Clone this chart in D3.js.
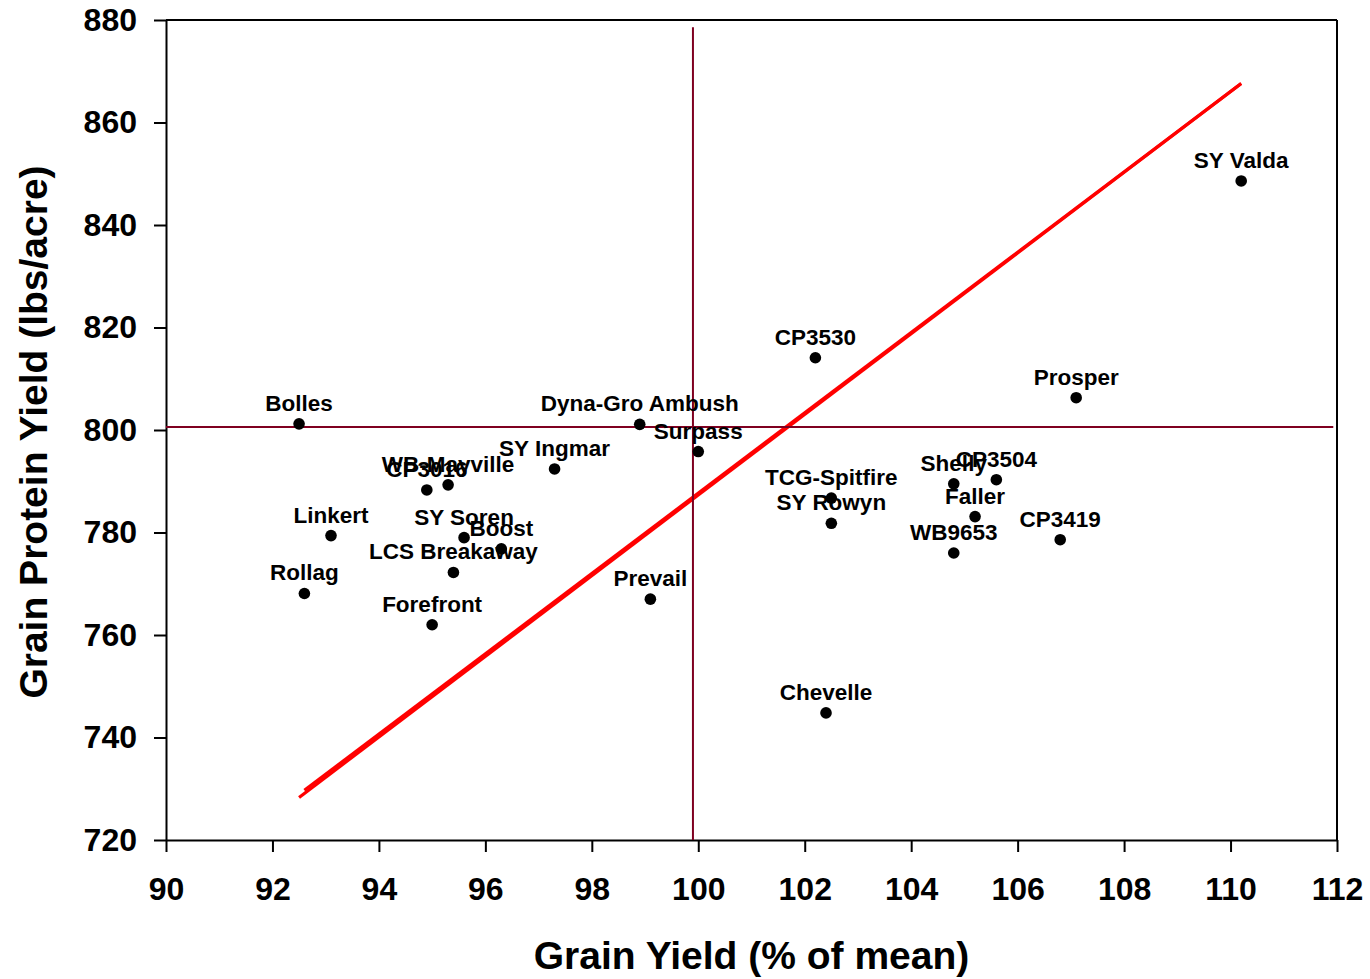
<!DOCTYPE html>
<html>
<head>
<meta charset="utf-8">
<script src="https://cdn.jsdelivr.net/npm/d3@7"></script>
<style>
  body { margin: 0; background: #fff; }
  text { font-family: "Liberation Sans", Arial, sans-serif; font-weight: bold; }
</style>
</head>
<body>
<svg id="chart"></svg>
<script>
// Data ========================================================================

const varieties = [
  "SY Valda", "CP3530", "Prosper", "Bolles", "Dyna-Gro Ambush", "Surpass",
  "SY Ingmar", "WB-Mayville", "CP3016", "Linkert", "SY Soren", "Boost",
  "LCS Breakaway", "Rollag", "Forefront", "Prevail", "Chevelle",
  "TCG-Spitfire", "SY Rowyn", "Shelly", "CP3504", "Faller", "WB9653", "CP3419"
];
const grainYield = [
  110.2, 102.2, 107.1, 92.5, 98.9, 100.0,
  97.3, 95.3, 94.9, 93.1, 95.6, 96.3,
  95.4, 92.6, 95.0, 99.1, 102.4,
  102.5, 102.5, 104.8, 105.6, 105.2, 104.8, 106.8
];
const proteinYield = [
  848.6, 814.1, 806.3, 801.2, 801.1, 795.8,
  792.4, 789.3, 788.3, 779.4, 779.0, 776.8,
  772.2, 768.1, 762.0, 767.0, 744.8,
  786.7, 781.8, 789.5, 790.3, 783.1, 776.0, 778.6
];

const xTicks = [90, 92, 94, 96, 98, 100, 102, 104, 106, 108, 110, 112];
const yTicks = [720, 740, 760, 780, 800, 820, 840, 860, 880];

// mean reference lines
const meanYield = 99.9;
const meanProtein = 800.6;

// regression line (drawn twice, as in the original)
const trendX = [92.5, 110.2];
const trendY = [728.3, 867.6];
const trendX2 = [92.6, 110.2];
const trendY2 = [729.7, 867.6];

// Layout ======================================================================

const svgWidth = 1370, svgHeight = 979;
const plotLeft = 166, plotRight = 1337, plotTop = 20, plotBottom = 840;
const maroon = "#7f0020";

const svg = d3.select("#chart")
  .attr("width", svgWidth)
  .attr("height", svgHeight);

const x = d3.scaleLinear().domain([90, 112]).range([plotLeft, plotRight]);
const y = d3.scaleLinear().domain([720, 880]).range([plotBottom, plotTop]);

// Frame =======================================================================

svg.append("line")
  .attr("x1", plotLeft).attr("x2", plotRight)
  .attr("y1", plotTop).attr("y2", plotTop)
  .attr("stroke", "#000").attr("stroke-width", 2);
svg.append("line")
  .attr("x1", plotRight).attr("x2", plotRight)
  .attr("y1", plotTop).attr("y2", plotBottom)
  .attr("stroke", "#000").attr("stroke-width", 2);

// Axes ========================================================================

const xAxis = svg.append("g")
  .attr("transform", `translate(0,${plotBottom})`)
  .call(d3.axisBottom(x).tickValues(xTicks).tickSize(12).tickSizeOuter(0).tickPadding(25));
const yAxis = svg.append("g")
  .attr("transform", `translate(${plotLeft},0)`)
  .call(d3.axisLeft(y).tickValues(yTicks).tickSize(12).tickSizeOuter(0).tickPadding(17));

[xAxis, yAxis].forEach(g => {
  g.selectAll("path, line").attr("stroke", "#000").attr("stroke-width", 2);
  g.selectAll("text")
    .attr("fill", "#000")
    .style("font-size", "32px")
    .style("font-family", "'Liberation Sans', Arial, sans-serif")
    .style("font-weight", "bold");
});

svg.append("text")
  .attr("x", (plotLeft + plotRight) / 2)
  .attr("y", 969)
  .attr("text-anchor", "middle")
  .style("font-size", "39px")
  .text("Grain Yield (% of mean)");

svg.append("text")
  .attr("transform", `translate(47,${(plotTop + plotBottom) / 2 + 2}) rotate(-90)`)
  .attr("text-anchor", "middle")
  .style("font-size", "39px")
  .text("Grain Protein Yield (lbs/acre)");

// Trend line ==================================================================

[[trendX, trendY], [trendX2, trendY2]].forEach(([tx, ty]) => {
  svg.append("line")
    .attr("x1", x(tx[0])).attr("y1", y(ty[0]))
    .attr("x2", x(tx[1])).attr("y2", y(ty[1]))
    .attr("stroke", "#ff0000")
    .attr("stroke-width", 3.2);
});

// Mean lines ==================================================================

svg.append("line")
  .attr("x1", x(meanYield)).attr("x2", x(meanYield))
  .attr("y1", y(878.6)).attr("y2", y(720))
  .attr("stroke", maroon).attr("stroke-width", 2);
svg.append("line")
  .attr("x1", x(90)).attr("x2", x(111.93))
  .attr("y1", y(meanProtein)).attr("y2", y(meanProtein))
  .attr("stroke", maroon).attr("stroke-width", 2);

// Points & labels =============================================================

const points = varieties.map((name, i) => ({ name, gx: grainYield[i], py: proteinYield[i] }));

svg.selectAll("circle.pt")
  .data(points)
  .enter()
  .append("circle")
  .attr("class", "pt")
  .attr("cx", d => x(d.gx))
  .attr("cy", d => y(d.py))
  .attr("r", 5.8)
  .attr("fill", "#000");

svg.selectAll("text.lbl")
  .data(points)
  .enter()
  .append("text")
  .attr("class", "lbl")
  .attr("x", d => x(d.gx))
  .attr("y", d => y(d.py) - 13)
  .attr("text-anchor", "middle")
  .style("font-size", "22.5px")
  .text(d => d.name);
</script>
</body>
</html>
